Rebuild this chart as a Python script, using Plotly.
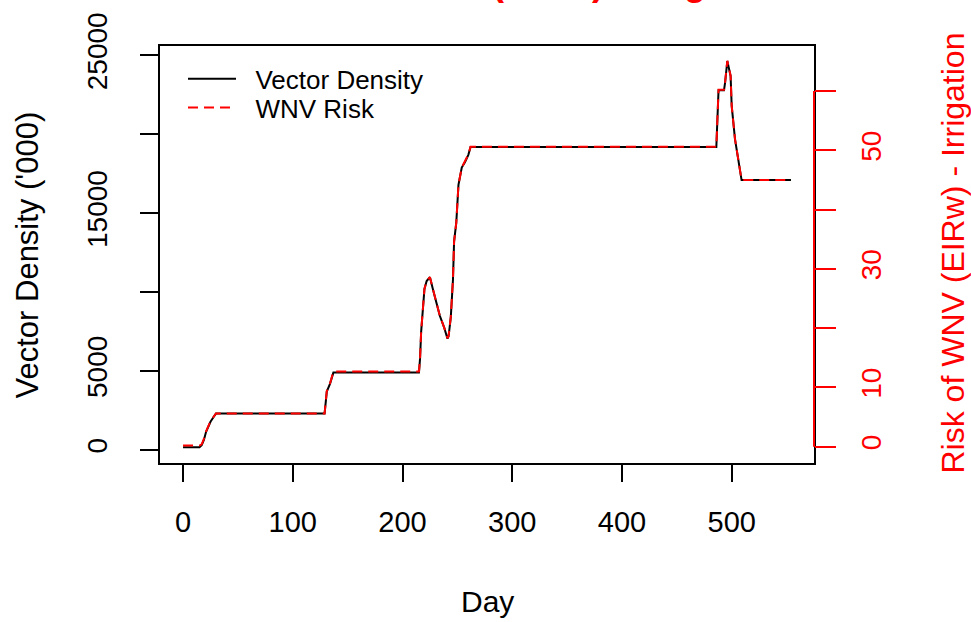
import plotly.graph_objects as go

# ---- data ----
days = [0, 15, 17, 19, 21, 25, 28, 30, 129, 131, 134, 137, 215, 216, 217, 219, 220,
        222, 225, 228, 231, 234, 238, 241, 242, 244, 246, 247, 249, 251, 254, 257,
        260, 262, 486, 488, 493, 494, 496, 499, 500, 503, 506, 509, 554]
vector_density = [170, 170, 300, 630, 1150, 1780, 2100, 2300, 2300, 3700, 4200, 4900,
                  4900, 5800, 7500, 9300, 10200, 10700, 10950, 10100, 9300, 8500, 7750,
                  7050, 7200, 8400, 10800, 13200, 14400, 16800, 17900, 18250, 18700,
                  19200, 19200, 22800, 22800, 23300, 24650, 23700, 21800, 19700, 18400,
                  17100, 17100]
wnv_risk = [0.2, 0.2, 0.4, 1.3, 2.6, 4.3, 5.1, 5.6, 5.6, 9.4, 10.7, 12.7, 12.7, 14.9,
            19.5, 24.3, 26.6, 28.0, 28.6, 26.4, 24.3, 22.1, 20.1, 18.3, 18.7, 21.9,
            28.3, 34.6, 37.8, 44.2, 47.1, 48.1, 49.3, 50.6, 50.6, 60.2, 60.2, 61.5,
            65.1, 62.6, 57.5, 51.9, 48.5, 45.0, 45.0]

x_ticks = [0, 100, 200, 300, 400, 500]
left_ticks = [0, 5000, 10000, 15000, 20000, 25000]
left_ticktext = ["0", "5000", "", "15000", "", "25000"]
right_ticks = [0, 10, 20, 30, 40, 50, 60]
right_ticktext = ["0", "10", "", "30", "", "50", ""]

FONT = "Liberation Sans, Arial, sans-serif"
W, H = 971, 622
ML, MR, MT, MB = 160, 157, 43, 159
PW, PH = W - ML - MR, H - MT - MB


def px_x(p):
    return (p - ML) / PW


def px_y(p):
    return (H - MB - p) / PH


GAP = "\u00a0\u00a0"

fig = go.Figure()
fig.add_trace(go.Scatter(x=days, y=vector_density, mode="lines", name=GAP + "Vector Density",
                         line=dict(color="black", width=2), yaxis="y", legend="legend"))
fig.add_trace(go.Scatter(x=days, y=wnv_risk, mode="lines", name=GAP + "WNV Risk",
                         line=dict(color="red", width=2, dash="10px,6px"), yaxis="y2",
                         legend="legend2"))

legend_common = dict(xanchor="left", yanchor="middle", bgcolor="rgba(0,0,0,0)",
                     borderwidth=0, font=dict(size=26, color="black"), itemwidth=48)

fig.update_layout(
    width=W, height=H,
    margin=dict(l=ML, r=MR, t=MT, b=MB, pad=0),
    paper_bgcolor="white", plot_bgcolor="white",
    font=dict(family=FONT, size=28, color="black"),
    showlegend=True,
    legend=dict(x=px_x(183), y=px_y(76), **legend_common),
    legend2=dict(x=px_x(183), y=px_y(105), **legend_common),
    xaxis=dict(range=[-21, 575], tickvals=x_ticks, ticks="outside", ticklen=17,
               tickwidth=2, tickcolor="black", showline=True, linecolor="black",
               linewidth=2, mirror=True, showgrid=False, zeroline=False,
               ticklabelstandoff=15, tickfont=dict(size=29)),
    yaxis=dict(range=[-830, 25600], tickvals=left_ticks, ticktext=left_ticktext,
               ticks="outside", ticklen=18, tickwidth=2, tickcolor="black",
               showline=True, linecolor="black", linewidth=2, mirror=True,
               showgrid=False, zeroline=False, tickangle=-90,
               ticklabelstandoff=22, tickfont=dict(size=28)),
    yaxis2=dict(range=[-2.75, 67.6], tickvals=right_ticks, ticktext=right_ticktext,
                overlaying="y", side="right", ticks="outside", ticklen=21,
                tickwidth=2, tickcolor="red", showline=False, showgrid=False,
                zeroline=False, tickangle=-90, ticklabelstandoff=11,
                tickfont=dict(size=28, color="red")),
)

# red right-axis line spanning the tick range
fig.add_shape(type="line", xref="paper", x0=1, x1=1, yref="y2",
              y0=right_ticks[0], y1=right_ticks[-1], line=dict(color="red", width=2))

fig.add_annotation(text="Vector Density ('000)", xref="paper", yref="paper",
                   x=px_x(27), y=px_y(254), textangle=-90, showarrow=False,
                   font=dict(size=31, color="black"), xanchor="center", yanchor="middle")
fig.add_annotation(text="Risk of WNV (EIRw) - Irrigation", xref="paper", yref="paper",
                   x=px_x(953), y=px_y(252), textangle=-90, showarrow=False,
                   font=dict(size=32, color="red"), xanchor="center", yanchor="middle")
fig.add_annotation(text="Day", xref="paper", yref="paper",
                   x=px_x(487), y=px_y(602), showarrow=False,
                   font=dict(size=30, color="black"), xanchor="center", yanchor="middle")
# main title, mostly above the visible page (as in the reference)
fig.add_annotation(text="<b>Risk of WNV (EIRw) - Irrigation</b>", xref="paper", yref="paper",
                   x=px_x(266), y=px_y(-21), showarrow=False,
                   font=dict(size=36, color="red"), xanchor="left", yanchor="middle")

fig.write_html("out.html")
